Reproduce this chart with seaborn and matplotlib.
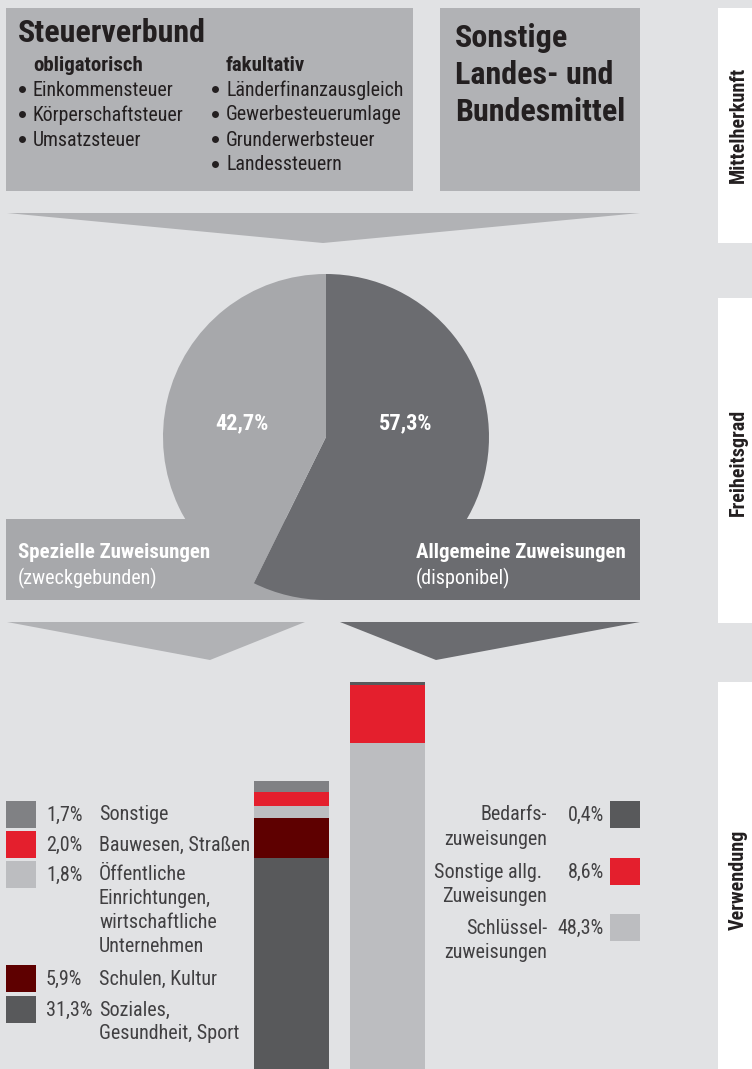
import numpy as np
import pandas as pd
import matplotlib
matplotlib.use("Agg")
import matplotlib.pyplot as plt
from matplotlib import font_manager
from matplotlib.patches import Rectangle, Polygon
import seaborn as sns

# Schrift: schmale Grotesk, wenn vorhanden
vorhanden = {f.name for f in font_manager.fontManager.ttflist}
schrift = next((s for s in ["Liberation Sans Narrow", "Roboto Condensed", "Liberation Sans"]
                if s in vorhanden), "DejaVu Sans")
sns.set_style("white")
plt.rcParams["font.family"] = [schrift, "DejaVu Sans"]

# ---- Daten ----
pie_namen = ["Allgemeine Zuweisungen", "Spezielle Zuweisungen"]
pie_werte = [57.3, 42.7]
pie_texte = ["57,3%", "42,7%"]

gruppen = ["Spezielle", "Allgemeine"]
# von unten nach oben
spez_kat = ["Soziales,\nGesundheit, Sport", "Schulen, Kultur",
            "Öffentliche\nEinrichtungen,\nwirtschaftliche\nUnternehmen",
            "Bauwesen, Straßen", "Sonstige"]
spez_werte = [31.3, 5.9, 1.8, 2.0, 1.7]
spez_pct = ["31,3%", "5,9%", "1,8%", "2,0%", "1,7%"]
allg_kat = ["Schlüssel-\nzuweisungen", "Sonstige allg. \nZuweisungen", "Bedarfs-\nzuweisungen"]
allg_werte = [48.3, 8.6, 0.4]
allg_pct = ["48,3%", "8,6%", "0,4%"]

steuer_oblig = ["Einkommensteuer", "Körperschaftsteuer", "Umsatzsteuer"]
steuer_fakult = ["Länderfinanzausgleich", "Gewerbesteuerumlage", "Grunderwerbsteuer", "Landessteuern"]
ebenen = ["Mittelherkunft", "Freiheitsgrad", "Verwendung"]

# ---- Farben ----
bg = "#e1e2e4"
box_grau = "#b1b2b5"
hell = "#a7a8ab"
dunkel = "#6b6c70"
spez_farben = ["#58595b", "#5e0000", "#bcbdc0", "#e41f2d", "#808184"]
allg_farben = ["#bcbdc0", "#e41f2d", "#58595b"]
txt_schwarz = "#231f20"
txt_grau = "#414042"

W, H = 752, 1069
fig = plt.figure(figsize=(W / 100, H / 100), dpi=100, facecolor=bg)

# Hintergrund-Achse in Pixelkoordinaten
ax_bg = fig.add_axes([0, 0, 1, 1], zorder=0)
ax_bg.set_xlim(0, W)
ax_bg.set_ylim(H, 0)
ax_bg.axis("off")


def rect(x0, y0, x1, y1, c):
    ax_bg.add_patch(Rectangle((x0, y0), x1 - x0, y1 - y0, facecolor=c, linewidth=0))


def tri(pts, c):
    ax_bg.add_patch(Polygon(pts, closed=True, facecolor=c, linewidth=0))


# Kästen oben
rect(6, 8, 413, 191, box_grau)
rect(440, 8, 640, 191, box_grau)
tri([(7, 213), (640, 213), (323, 243)], box_grau)
# Beschriftungskästen unter dem Kreis
rect(6, 519, 326, 600, hell)
rect(326, 519, 640, 600, dunkel)
tri([(7, 622), (305, 622), (210, 660)], box_grau)
tri([(340, 622), (640, 622), (436, 660)], dunkel)
# rechte Leiste
panels = [(8, 243), (298, 623), (682, 1069)]
for (y0, y1) in panels:
    rect(718, y0, 752, y1, "white")

# ---- Kreisdiagramm ----
ax_pie = fig.add_axes([163 / W, (H - 600) / H, 326 / W, 326 / H], zorder=2)
ax_pie.pie(pie_werte, colors=[dunkel, hell], startangle=90, counterclock=False,
           radius=1, wedgeprops=dict(linewidth=0))
ax_pie.set_xlim(-1, 1)
ax_pie.set_ylim(-1, 1)
ax_pie.axis("off")

# ---- gestapelte Säulen ----
ax_bar = fig.add_axes([243.5 / W, 0, 192 / W, 387 / H], zorder=2)
for gruppe, werte, farben in [(gruppen[0], spez_werte, spez_farben),
                              (gruppen[1], allg_werte, allg_farben)]:
    oben = np.cumsum(werte)
    for top, farbe in reversed(list(zip(oben, farben))):
        df = pd.DataFrame({"gruppe": [gruppe], "wert": [top]})
        sns.barplot(data=df, x="gruppe", y="wert", order=gruppen, color=farbe,
                    saturation=1, width=0.78, linewidth=0, ax=ax_bar)
ax_bar.set_xlim(-0.5, 1.5)
ax_bar.set_ylim(0, sum(allg_werte))
ax_bar.axis("off")


def px(x, y):
    return x / W, 1 - y / H


def t(x, y, s, **kw):
    fig.text(*px(x, y), s, **kw)


# ---- Texte oben ----
t(18, 33, "Steuerverbund", fontsize=23, fontweight="bold", color=txt_schwarz, va="center")
t(33, 65, "obligatorisch", fontsize=15, fontweight="bold", color=txt_schwarz, va="center")
t(226, 65, "fakultativ", fontsize=15, fontweight="bold", color=txt_schwarz, va="center")
for spalte_x, liste in [(22, steuer_oblig), (215, steuer_fakult)]:
    for i, s in enumerate(liste):
        ax_bg.plot(spalte_x, 89 + 25 * i, "o", ms=5, color=txt_schwarz, mew=0)
        t(spalte_x + 11, 90 + 25 * i, s, fontsize=14.3, color=txt_schwarz, va="center")
for i, s in enumerate(["Sonstige", "Landes- und", "Bundesmittel"]):
    t(455, 38 + 37 * i, s, fontsize=23, fontweight="bold", color=txt_schwarz, va="center")

# Kreisbeschriftung
t(406, 423, pie_texte[0], fontsize=16, fontweight="bold", color="white", ha="center", va="center")
t(242, 423, pie_texte[1], fontsize=16, fontweight="bold", color="white", ha="center", va="center")
t(18, 552, pie_namen[1], fontsize=15, fontweight="bold", color="white", va="center")
t(18, 578, "(zweckgebunden)", fontsize=14.5, color="white", va="center")
t(416, 552, pie_namen[0], fontsize=15, fontweight="bold", color="white", va="center")
t(416, 578, "(disponibel)", fontsize=14.5, color="white", va="center")

# ---- Legende links ----
leg_links_y = [996, 965, 861, 831, 801]  # Oberkante der Quadrate, gleiche Reihenfolge wie Daten
for kat, pct, farbe, y0 in zip(spez_kat, spez_pct, spez_farben, leg_links_y):
    rect(6, y0, 36, y0 + 27, farbe)
    t(46, y0 + 14, pct, fontsize=14.5, color=txt_grau, va="center")
    for j, zeile in enumerate(kat.split("\n")):
        t(99, y0 + 14 + 23.7 * j, zeile, fontsize=14.5, color=txt_grau, va="center")

# ---- Legende rechts ----
leg_rechts_y = [914, 858, 801]
for kat, pct, farbe, y0 in zip(allg_kat, allg_pct, allg_farben, leg_rechts_y):
    rect(610, y0, 640, y0 + 27, farbe)
    t(604, y0 + 14, pct, fontsize=14.5, color=txt_grau, va="center", ha="right")
    for j, zeile in enumerate(kat.split("\n")):
        t(547, y0 + 14 + 24.5 * j, zeile, fontsize=14.5, color=txt_grau, va="center", ha="right")

# ---- Ebenen rechts ----
for name, yc in zip(ebenen, [125, 462, 880]):
    t(738, yc, name, fontsize=14.5, fontweight="bold", color=txt_schwarz,
      rotation=90, ha="center", va="center")

fig.savefig("out.png", dpi=100, facecolor=bg)
